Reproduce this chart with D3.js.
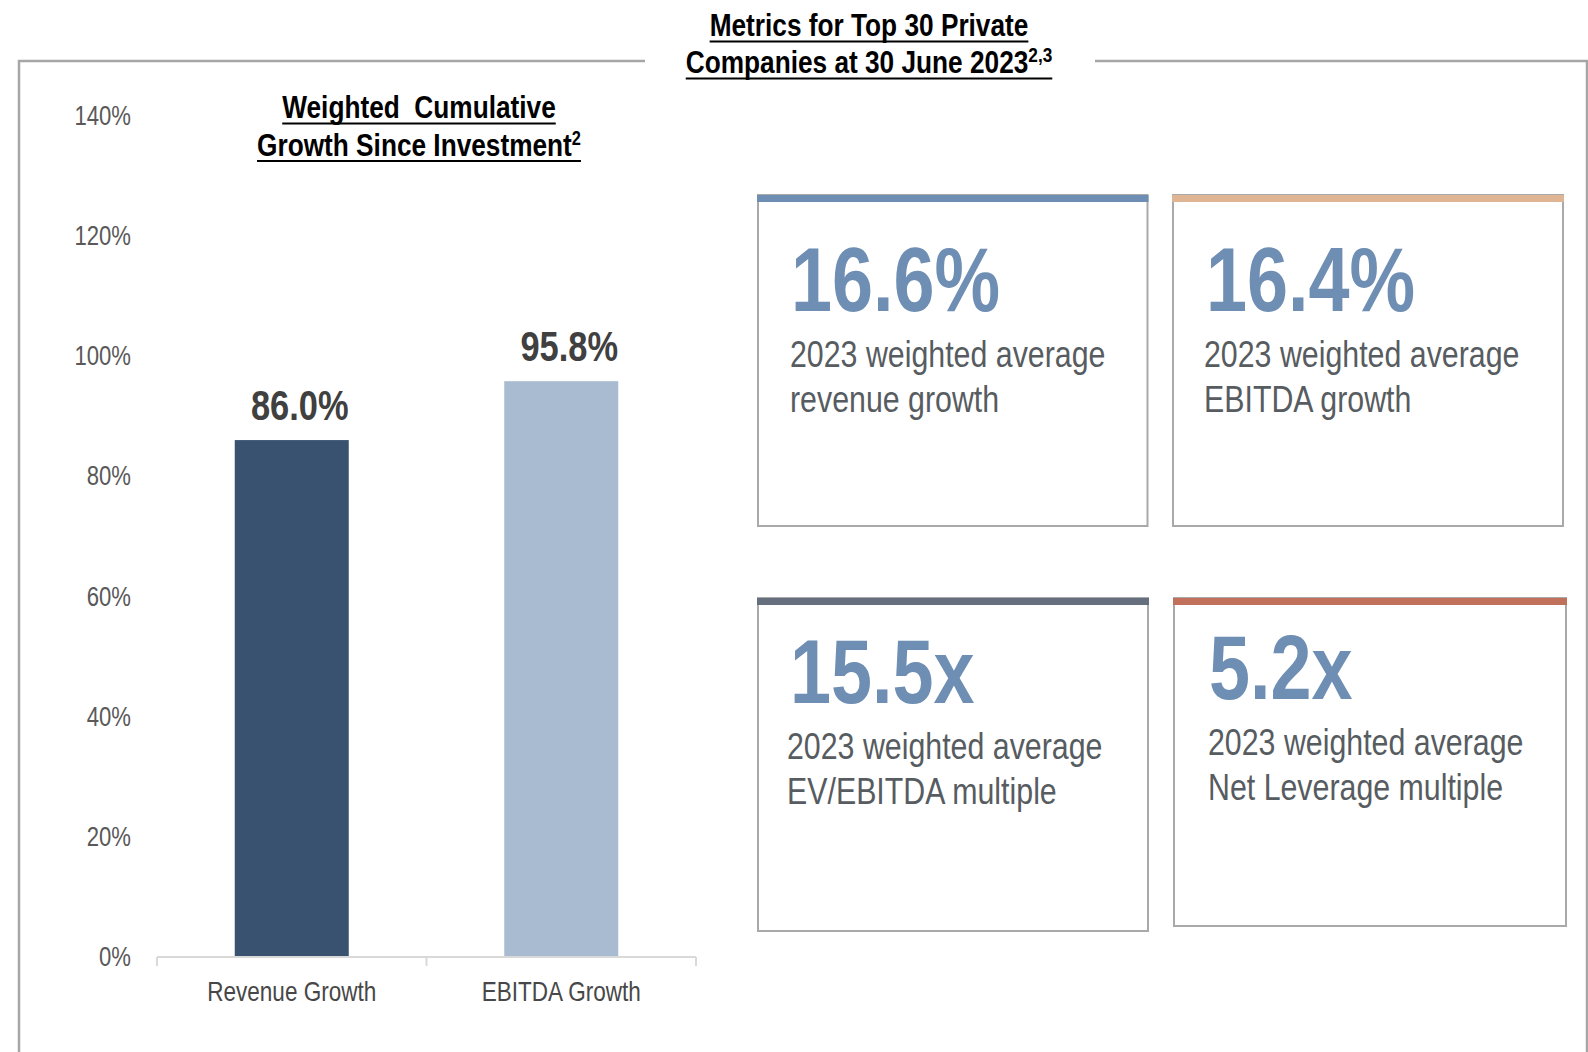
<!DOCTYPE html>
<html>
<head>
<meta charset="utf-8">
<script src="https://cdn.jsdelivr.net/npm/d3@7"></script>
<style>
  body { margin: 0; background: #fff; }
  svg { display: block; }
  text { font-family: 'Liberation Sans Narrow', 'Arial Narrow', 'Liberation Sans', Arial, sans-serif; }
</style>
</head>
<body>
<div id="chart"></div>
<script>
// Data
var categories = ["Revenue Growth", "EBITDA Growth"];
var growthValues = [0.86, 0.958];
var yTicks = [0, 0.2, 0.4, 0.6, 0.8, 1.0, 1.2, 1.4];

var metricValues = ["16.6%", "16.4%", "15.5x", "5.2x"];
var metricLine1 = ["2023 weighted average", "2023 weighted average", "2023 weighted average", "2023 weighted average"];
var metricLine2 = ["revenue growth", "EBITDA growth", "EV/EBITDA multiple", "Net Leverage multiple"];

// Layout
var W = 1588, H = 1052;
var barColors = ["#38526f", "#a9bbd1"];
var cardColors = ["#6e8eb3", "#dfb594", "#656f7d", "#c0705b"];
// [left, top, right, bottom, number dx, number dy, text dx, text dy]
var cardLayout = [
  [758, 195, 1147.5, 526, 33, 116, 32, 172],
  [1173, 195, 1563, 526, 33, 116, 31, 172],
  [758, 598, 1148, 931, 32, 105, 29, 161],
  [1174, 598, 1566, 926, 35, 101, 34, 157]
];

// Narrow font is not installed everywhere: squeeze a regular sans horizontally
var testCtx = document.createElement("canvas").getContext("2d");
testCtx.font = "40px 'Liberation Sans Narrow', monospace";
var wNarrow = testCtx.measureText("Revenue Growth 2023").width;
testCtx.font = "40px monospace";
var wMono = testCtx.measureText("Revenue Growth 2023").width;
var NARROW = (wNarrow !== wMono) ? 1 : 0.82;

var svg = d3.select("#chart").append("svg")
    .attr("width", W)
    .attr("height", H);

function ntext(parent, x, y) {
  return parent.append("g")
      .attr("transform", "translate(" + x + "," + y + ") scale(" + NARROW + ",1)")
    .append("text");
}

function underlined(sel) {
  sel.each(function() {
    var b = this.getBBox();
    d3.select(this.parentNode).append("line")
      .attr("x1", b.x).attr("x2", b.x + b.width)
      .attr("y1", 5.5).attr("y2", 5.5)
      .attr("stroke", "#000").attr("stroke-width", 2);
  });
}

// Outer frame with gap for the heading
svg.append("path")
    .attr("d", "M645,61H19V1052M1095,61H1587V1052")
    .attr("fill", "none")
    .attr("stroke", "#a6a6a6")
    .attr("stroke-width", 2.5);

// Heading
var head = svg.append("g");
ntext(head, 869, 36)
    .attr("text-anchor", "middle")
    .style("font-size", "32px").style("font-weight", "bold")
    .text("Metrics for Top 30 Private")
    .call(underlined);
var h2 = ntext(head, 869, 73)
    .attr("text-anchor", "middle")
    .style("font-size", "32px").style("font-weight", "bold");
h2.append("tspan").text("Companies at 30 June 2023");
h2.append("tspan").attr("dy", -11).style("font-size", "21px").text("2,3");
h2.call(underlined);

// Bar chart
var y = d3.scaleLinear()
    .domain([0, 1.4])
    .range([957, 115.5]);

var x = d3.scaleBand()
    .domain(categories)
    .range([157, 696])
    .paddingInner(0.577)
    .paddingOuter(0.2885);

var yAxis = d3.axisLeft(y)
    .tickValues(yTicks)
    .tickFormat(d3.format(".0%"))
    .tickSize(0)
    .tickPadding(0);

var gy = svg.append("g")
    .attr("transform", "translate(131,0)")
    .call(yAxis);
gy.select(".domain").remove();
gy.attr("font-family", null);
gy.selectAll(".tick text")
    .attr("transform", "scale(" + NARROW + ",1)")
    .style("font-size", "27px")
    .attr("fill", "#595959");

var ct = svg.append("g");
ntext(ct, 419, 118)
    .attr("text-anchor", "middle")
    .attr("xml:space", "preserve")
    .style("white-space", "pre")
    .style("font-size", "32px").style("font-weight", "bold")
    .text("Weighted  Cumulative")
    .call(underlined);
var ct2 = ntext(ct, 419, 155.5)
    .attr("text-anchor", "middle")
    .style("font-size", "32px").style("font-weight", "bold");
ct2.append("tspan").text("Growth Since Investment");
ct2.append("tspan").attr("dy", -11).style("font-size", "20px").text("2");
ct2.call(underlined);

svg.selectAll(".bar")
  .data(growthValues)
  .enter().append("rect")
    .attr("class", "bar")
    .attr("x", function(d, i) { return x(categories[i]); })
    .attr("y", function(d) { return y(d); })
    .attr("width", x.bandwidth())
    .attr("height", function(d) { return y(0) - y(d); })
    .attr("fill", function(d, i) { return barColors[i]; });

svg.selectAll(".barLabel")
  .data(growthValues)
  .enter().append("g")
    .attr("class", "barLabel")
    .attr("transform", function(d, i) {
      return "translate(" + (x(categories[i]) + x.bandwidth() / 2 + 8) + "," + (y(d) - 20) + ") scale(" + NARROW + ",1)";
    })
  .append("text")
    .attr("text-anchor", "middle")
    .style("font-size", "42px").style("font-weight", "bold")
    .attr("fill", "#404040")
    .text(d3.format(".1%"));

// Category axis
var gx = svg.append("g").attr("class", "x axis");
var bounds = [x.range()[0]].concat(categories.map(function(c) {
  return x(c) + x.bandwidth() + x.step() * x.paddingInner() / 2;
}));
gx.append("line")
    .attr("x1", x.range()[0]).attr("x2", x.range()[1])
    .attr("y1", y(0)).attr("y2", y(0))
    .attr("stroke", "#d9d9d9").attr("stroke-width", 2);
gx.selectAll(".tk")
  .data(bounds)
  .enter().append("line")
    .attr("x1", function(d) { return d; }).attr("x2", function(d) { return d; })
    .attr("y1", y(0)).attr("y2", y(0) + 9)
    .attr("stroke", "#d9d9d9").attr("stroke-width", 2);
gx.selectAll(".cat")
  .data(categories)
  .enter().append("g")
    .attr("class", "cat")
    .attr("transform", function(d) {
      return "translate(" + (x(d) + x.bandwidth() / 2) + ",1001) scale(" + NARROW + ",1)";
    })
  .append("text")
    .attr("text-anchor", "middle")
    .style("font-size", "27.5px")
    .attr("fill", "#474747")
    .text(function(d) { return d; });

// Metric cards
var cards = svg.selectAll(".card")
  .data(metricValues)
  .enter().append("g")
    .attr("class", "card")
    .attr("transform", function(d, i) { return "translate(" + cardLayout[i][0] + "," + cardLayout[i][1] + ")"; });

cards.append("rect")
    .attr("x", 0).attr("y", 0)
    .attr("width", function(d, i) { return cardLayout[i][2] - cardLayout[i][0]; })
    .attr("height", function(d, i) { return cardLayout[i][3] - cardLayout[i][1]; })
    .attr("fill", "none")
    .attr("stroke", "#a9a9a9")
    .attr("stroke-width", 2);

cards.append("rect")
    .attr("x", -1).attr("y", 0)
    .attr("width", function(d, i) { return cardLayout[i][2] - cardLayout[i][0] + 2; })
    .attr("height", 7)
    .attr("fill", function(d, i) { return cardColors[i]; });

cards.append("g")
    .attr("transform", function(d, i) { return "translate(" + cardLayout[i][4] + "," + cardLayout[i][5] + ") scale(" + NARROW + ",1)"; })
  .append("text")
    .style("font-size", "90px").style("font-weight", "bold")
    .attr("fill", "#6e8eb3")
    .text(function(d) { return d; });

cards.append("g")
    .attr("transform", function(d, i) { return "translate(" + cardLayout[i][6] + "," + cardLayout[i][7] + ") scale(" + NARROW + ",1)"; })
  .append("text")
    .style("font-size", "37px")
    .attr("fill", "#575c61")
    .text(function(d, i) { return metricLine1[i]; });

cards.append("g")
    .attr("transform", function(d, i) { return "translate(" + cardLayout[i][6] + "," + (cardLayout[i][7] + 45) + ") scale(" + NARROW + ",1)"; })
  .append("text")
    .style("font-size", "37px")
    .attr("fill", "#575c61")
    .text(function(d, i) { return metricLine2[i]; });
</script>
</body>
</html>
